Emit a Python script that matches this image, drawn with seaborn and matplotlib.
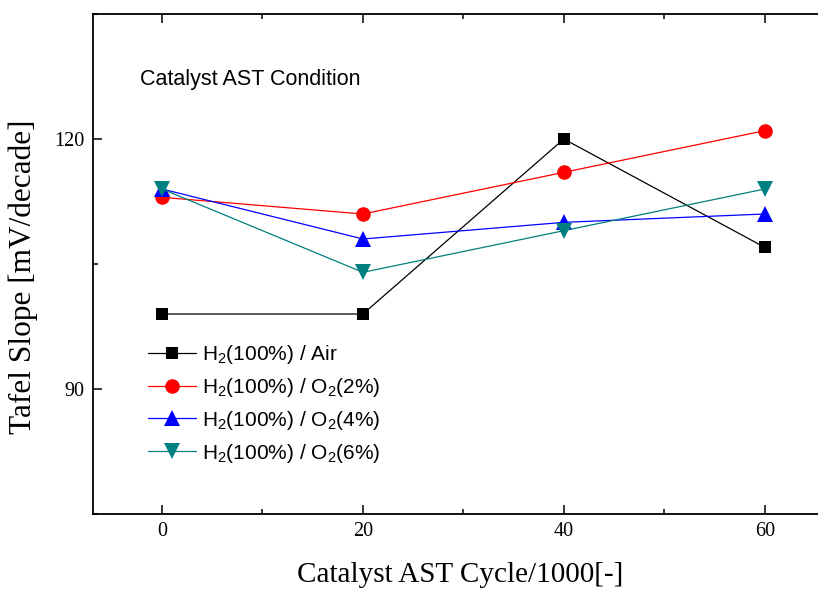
import matplotlib
matplotlib.use("Agg")
import matplotlib.pyplot as plt
from matplotlib.ticker import MultipleLocator
import seaborn as sns
import pandas as pd

# Catalyst AST cycles (thousands)
cycles = [0, 20, 40, 60]

# Tafel slopes [mV/decade] for each gas condition
slope_air = [99, 99, 120, 107]
slope_o2_2 = [113, 111, 116, 121]
slope_o2_4 = [114, 108, 110, 111]
slope_o2_6 = [114, 104, 109, 114]

labels = [
    r"H$_2$(100%) / Air",
    r"H$_2$(100%) / O$_2$(2%)",
    r"H$_2$(100%) / O$_2$(4%)",
    r"H$_2$(100%) / O$_2$(6%)",
]
series = [slope_air, slope_o2_2, slope_o2_4, slope_o2_6]
colors = ["#000000", "#ff0000", "#0000ff", "#008080"]
markers = ["s", "o", "^", "v"]
msizes = [9, 10.5, 12, 12]

sns.set_theme(style="white")
plt.rcParams["text.color"] = "black"
plt.rcParams["axes.labelcolor"] = "black"
plt.rcParams["xtick.color"] = "black"
plt.rcParams["ytick.color"] = "black"
plt.rcParams["mathtext.fontset"] = "custom"
plt.rcParams["mathtext.rm"] = "Liberation Sans"
plt.rcParams["mathtext.it"] = "Liberation Sans:italic"
plt.rcParams["mathtext.default"] = "regular"

fig = plt.figure(figsize=(8.18, 5.90), dpi=100)
W, H = 818, 590
x0, x1, y0, y1 = 93, 822, 13.5, 514
ax = fig.add_axes([x0 / W, 1 - y1 / H, (x1 - x0) / W, (y1 - y0) / H])

for lab, vals, c, m, ms in zip(labels, series, colors, markers, msizes):
    df = pd.DataFrame({"cycle": cycles, "slope": vals})
    sns.lineplot(data=df, x="cycle", y="slope", ax=ax, color=c, marker=m,
                 markersize=ms, markeredgewidth=0, linewidth=0.9, label=lab)

ax.set_xlim(-6.87, 65.7)
ax.set_ylim(75, 135.06)
ax.xaxis.set_major_locator(MultipleLocator(20))
ax.xaxis.set_minor_locator(MultipleLocator(10))
ax.yaxis.set_major_locator(MultipleLocator(30))
ax.yaxis.set_minor_locator(MultipleLocator(15))

for s in ["left", "bottom", "top"]:
    ax.spines[s].set_visible(True)
    ax.spines[s].set_color("black")
    ax.spines[s].set_linewidth(1.3)
ax.spines["right"].set_visible(False)

ax.tick_params(axis="both", which="major", direction="in", length=6.5, width=1.1,
               color="black", top=True, bottom=True, left=True, right=False,
               labelsize=14.5, labelcolor="black", pad=6)
ax.tick_params(axis="both", which="minor", direction="in", length=3.5, width=1.1,
               color="black", top=True, bottom=True, left=True, right=False)
for lbl in ax.get_xticklabels() + ax.get_yticklabels():
    lbl.set_fontfamily("Liberation Serif")

ax.set_xlabel("Catalyst AST Cycle/1000[-]", fontfamily="Liberation Serif",
              fontsize=21, color="black")
ax.set_ylabel("Tafel Slope [mV/decade]", fontfamily="Liberation Serif",
              fontsize=22.5, color="black")
ax.xaxis.set_label_coords(0.504, -0.096)
ax.yaxis.set_label_coords(-0.0754, 0.4745)

ax.text(-2.2, 127.1, "Catalyst AST Condition", fontfamily="Liberation Sans",
        fontsize=15.5, ha="left", va="center", color="black")

leg = ax.legend(loc="upper left", bbox_to_anchor=(0.064, 0.358), frameon=False,
                prop={"family": "Liberation Sans", "size": 15},
                handlelength=2.3, handletextpad=0.3, labelspacing=0.47,
                borderaxespad=0)
for t in leg.get_texts():
    t.set_color("black")

fig.savefig("out.png", dpi=100)
